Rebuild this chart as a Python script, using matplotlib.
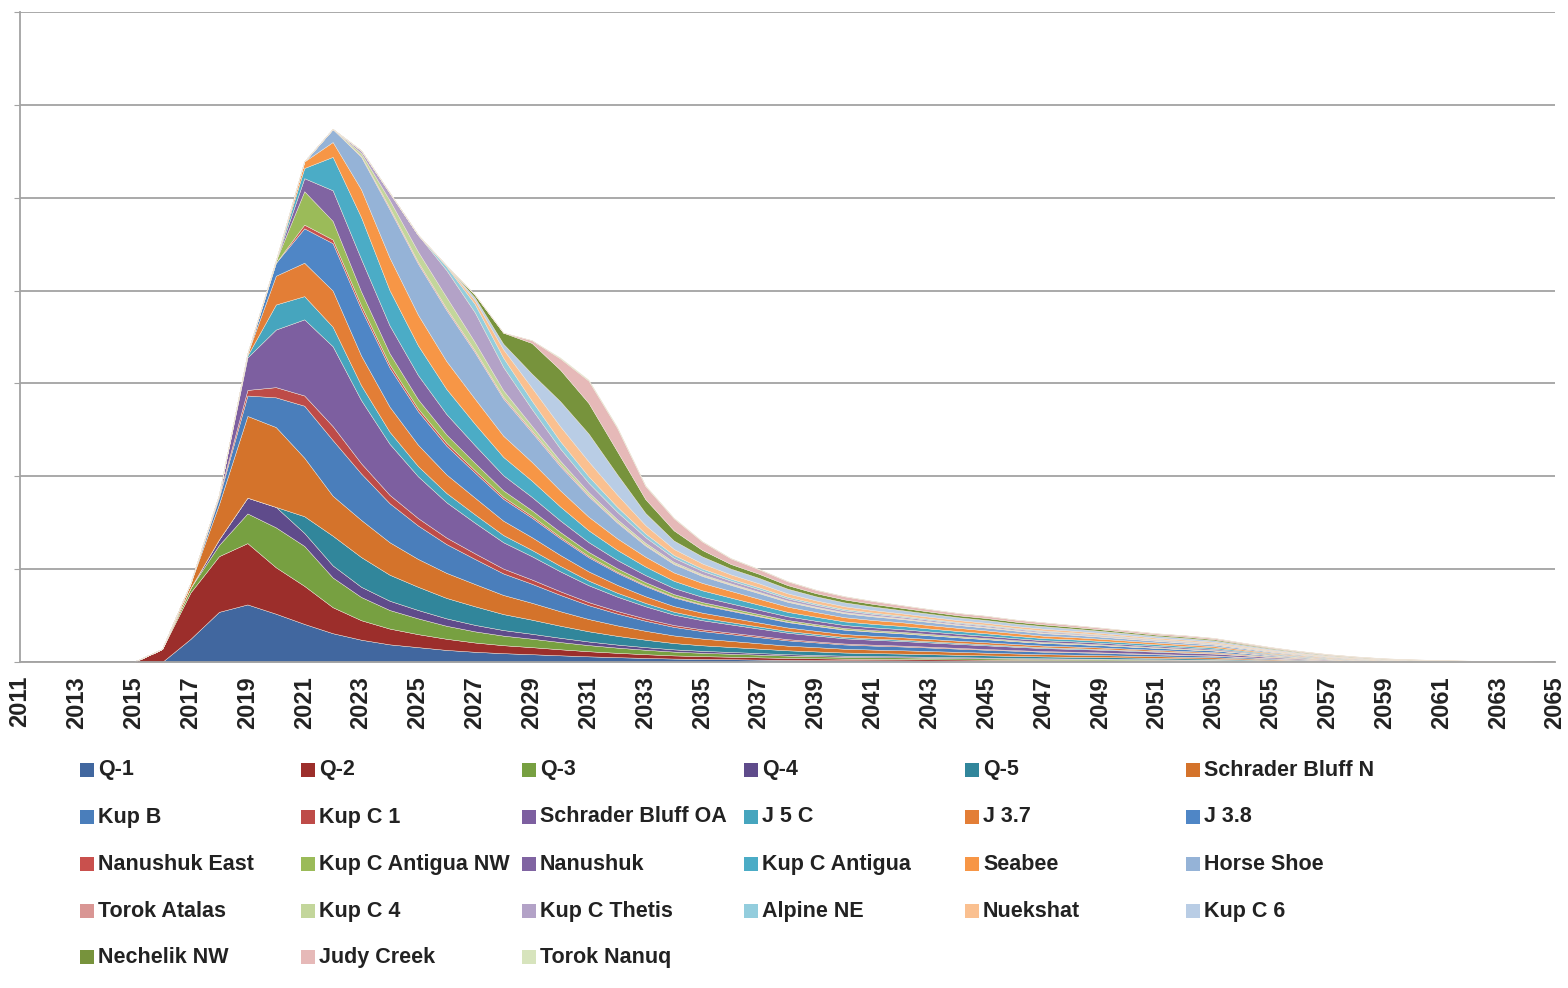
#!/usr/bin/env python3
# Stacked production profile by field, 2011-2065
import matplotlib
matplotlib.use("Agg")
import matplotlib.pyplot as plt
from matplotlib.patches import Rectangle

plt.rcParams['font.family'] = ['Liberation Sans', 'DejaVu Sans']

years = list(range(2011, 2066))
lead = [0, 0, 0, 0]          # 2011-2014: nothing on stream yet

names = ["Q-1", "Q-2", "Q-3", "Q-4", "Q-5", "Schrader Bluff N",
         "Kup B", "Kup C 1", "Schrader Bluff OA", "J 5 C", "J 3.7", "J 3.8",
         "Nanushuk East", "Kup C Antigua NW", "Nanushuk", "Kup C Antigua", "Seabee", "Horse Shoe",
         "Torok Atalas", "Kup C 4", "Kup C Thetis", "Alpine NE", "Nuekshat", "Kup C 6",
         "Nechelik NW", "Judy Creek", "Torok Nanuq"]

colors = ["#41679f", "#9c2e2b", "#77a041", "#5f4b8b", "#31869b", "#d4732b",
          "#4a7ebb", "#be4b48", "#7d5fa0", "#46a5be", "#e37e36", "#4f86c6",
          "#c9504d", "#9bbb59", "#8064a2", "#4bacc6", "#f79646", "#95b3d7",
          "#d99694", "#c3d69b", "#b3a2c7", "#93cddd", "#fac090", "#b9cde5",
          "#77933c", "#e6b9b8", "#d7e4bd"]

# yearly values 2015..2065 (one gridline = 100)
q1 = [0, 0, 25, 54, 62, 52, 41, 31, 24, 19, 16, 13, 11,
      9.5, 8.4, 7.2, 6.1, 5.2, 4.4, 3.7, 3.3, 3.0, 2.6, 2.3, 2.1, 1.9, 1.8, 1.7, 1.5, 1.4, 1.3, 1.2, 1.1,
      1.0, 1.0, 0.9, 0.8, 0.7, 0.7, 0.5, 0.4, 0.3, 0.2, 0.1, 0.1, 0.05, 0.04, 0.03, 0.02, 0.01, 0]
q2 = [0, 14, 50, 60, 66, 50, 41, 28, 21, 17, 14, 12, 10,
      8.6, 7.6, 6.5, 5.5, 4.7, 4.0, 3.4, 3.0, 2.7, 2.4, 2.1, 1.9, 1.7, 1.6, 1.5, 1.4, 1.3, 1.2, 1.1, 1.0,
      0.95, 0.88, 0.81, 0.74, 0.67, 0.6, 0.48, 0.35, 0.26, 0.18, 0.12, 0.08, 0.05, 0.035, 0.025, 0.014, 0.007, 0]
q3 = [0, 0, 5, 12, 32, 43, 43, 32, 25, 20, 17, 14, 12,
      10.3, 9.1, 7.8, 6.6, 5.6, 4.8, 4.1, 3.6, 3.2, 2.9, 2.5, 2.3, 2.0, 1.9, 1.8, 1.7, 1.6, 1.4, 1.3, 1.2,
      1.1, 1.06, 0.97, 0.89, 0.8, 0.72, 0.58, 0.42, 0.31, 0.22, 0.14, 0.1, 0.06, 0.04, 0.03, 0.02, 0.01, 0]
q4 = [0, 0, 0, 6, 17, 22, 14, 13, 11, 10, 9, 8, 7,
      6.0, 5.3, 4.6, 3.9, 3.3, 2.8, 2.4, 2.1, 1.9, 1.7, 1.5, 1.3, 1.2, 1.1, 1.05, 1.0, 0.9, 0.84, 0.77, 0.7,
      0.67, 0.62, 0.57, 0.52, 0.47, 0.42, 0.34, 0.25, 0.18, 0.13, 0.08, 0.06, 0.035, 0.025, 0.018, 0.01, 0.005, 0]
q5 = [0, 0, 0, 0, 0, 0, 18, 32, 32, 28, 25, 22, 20,
      17.2, 15.2, 13, 11, 9.4, 8, 6.8, 6, 5.4, 4.8, 4.2, 3.8, 3.4, 3.2, 3.0, 2.8, 2.6, 2.4, 2.2, 2.0,
      1.9, 1.76, 1.62, 1.48, 1.34, 1.2, 0.96, 0.7, 0.52, 0.36, 0.24, 0.16, 0.1, 0.07, 0.05, 0.03, 0.014, 0]
sbn = [0, 0, 5, 38, 88, 86, 63, 43, 40, 35, 30, 27, 24,
       20.6, 18.2, 15.6, 13.2, 11.3, 9.6, 8.2, 7.2, 6.5, 5.8, 5.0, 4.6, 4.1, 3.8, 3.6, 3.4, 3.1, 2.9, 2.6, 2.4,
       2.3, 2.1, 1.9, 1.8, 1.6, 1.44, 1.15, 0.84, 0.62, 0.43, 0.29, 0.19, 0.12, 0.08, 0.06, 0.03, 0.017, 0]
kup_b = [0, 0, 0, 7, 22, 32, 56, 60, 50, 42, 36, 31, 27,
         23.2, 20.5, 17.6, 14.9, 12.7, 10.8, 9.2, 8.1, 7.3, 6.5, 5.7, 5.1, 4.6, 4.3, 4.1, 3.8, 3.5, 3.2, 3.0, 2.7,
         2.6, 2.4, 2.2, 2.0, 1.8, 1.6, 1.3, 0.95, 0.7, 0.49, 0.32, 0.22, 0.14, 0.09, 0.07, 0.04, 0.02, 0]
kup_c1 = [0, 0, 0, 2, 6, 11, 11, 15, 11, 9, 8, 7, 6,
          5.2, 4.6, 3.9, 3.3, 2.8, 2.4, 2.0, 1.8, 1.6, 1.4, 1.3, 1.1, 1.0, 0.96, 0.9, 0.84, 0.78, 0.72, 0.66, 0.6,
          0.57, 0.53, 0.49, 0.44, 0.4, 0.36, 0.29, 0.21, 0.16, 0.11, 0.07, 0.05, 0.03, 0.02, 0.015, 0.008, 0.004, 0]
sboa = [0, 0, 0, 1, 35, 62, 82, 86, 68, 55, 45, 38, 33,
        28.4, 25.1, 21.5, 18.2, 15.5, 13.2, 11.2, 9.9, 8.9, 7.9, 6.9, 6.3, 5.6, 5.3, 5.0, 4.6, 4.3, 4.0, 3.6, 3.3,
        3.1, 2.9, 2.7, 2.4, 2.2, 2.0, 1.6, 1.2, 0.86, 0.59, 0.4, 0.26, 0.17, 0.12, 0.08, 0.05, 0.02, 0]
j5c = [0, 0, 0, 0, 2, 27, 25, 21, 16, 13, 11, 10, 9,
       7.7, 6.8, 5.9, 5.0, 4.2, 3.6, 3.1, 2.7, 2.4, 2.2, 1.9, 1.7, 1.5, 1.4, 1.35, 1.26, 1.17, 1.08, 0.99, 0.9,
       0.86, 0.79, 0.73, 0.67, 0.6, 0.54, 0.43, 0.32, 0.23, 0.16, 0.11, 0.07, 0.045, 0.03, 0.02, 0.013, 0.006, 0]
j37 = [0, 0, 0, 0, 2, 31, 36, 39, 32, 27, 23, 20, 18,
       15.5, 13.7, 11.7, 9.9, 8.5, 7.2, 6.1, 5.4, 4.9, 4.3, 3.8, 3.4, 3.1, 2.9, 2.7, 2.5, 2.3, 2.2, 2.0, 1.8,
       1.7, 1.6, 1.46, 1.33, 1.2, 1.08, 0.86, 0.63, 0.47, 0.32, 0.22, 0.14, 0.09, 0.06, 0.045, 0.025, 0.013, 0]
j38 = [0, 0, 0, 0, 0, 14, 37, 51, 50, 42, 36, 31, 27,
       23.5, 21.0, 18.0, 15.2, 12.9, 11.0, 9.4, 8.3, 7.4, 6.6, 5.8, 5.2, 4.7, 4.4, 4.2, 3.9, 3.6, 3.3, 3.0, 2.8,
       2.7, 2.5, 2.3, 2.1, 1.9, 1.7, 1.35, 1.0, 0.74, 0.52, 0.34, 0.23, 0.15, 0.1, 0.07, 0.04, 0.02, 0]
nan_east = [0, 0, 0, 0, 0, 0, 4, 4, 4, 3.5, 3, 3, 2.5,
            2.2, 1.9, 1.6, 1.4, 1.2, 1.0, 0.85, 0.75, 0.68, 0.6, 0.53, 0.48, 0.43, 0.4, 0.38, 0.35, 0.33, 0.3, 0.28, 0.25,
            0.24, 0.22, 0.2, 0.19, 0.17, 0.15, 0.12, 0.09, 0.07, 0.05, 0.03, 0.02, 0.013, 0.009, 0.006, 0.004, 0.002, 0]
kca_nw = [0, 0, 0, 0, 0, 2, 36, 20, 15, 12, 10, 9, 8,
          6.9, 6.1, 5.2, 4.4, 3.8, 3.2, 2.7, 2.4, 2.2, 1.9, 1.7, 1.5, 1.4, 1.3, 1.2, 1.1, 1.0, 0.96, 0.88, 0.8,
          0.76, 0.7, 0.65, 0.59, 0.54, 0.48, 0.38, 0.28, 0.21, 0.14, 0.1, 0.06, 0.04, 0.03, 0.02, 0.011, 0.006, 0]
nanushuk = [0, 0, 0, 0, 0, 0, 14, 33, 35, 30, 26, 22, 19,
            16.3, 14.4, 12.4, 10.5, 8.9, 7.6, 6.5, 5.7, 5.1, 4.6, 4.0, 3.6, 3.2, 3.0, 2.9, 2.7, 2.5, 2.3, 2.1, 1.9,
            1.8, 1.7, 1.5, 1.4, 1.3, 1.14, 0.91, 0.67, 0.49, 0.34, 0.23, 0.15, 0.1, 0.07, 0.05, 0.03, 0.013, 0]
kca = [0, 0, 0, 0, 0, 0, 11, 36, 45, 38, 32, 27, 23,
       19.8, 17.5, 15.0, 12.7, 10.8, 9.2, 7.8, 6.9, 6.2, 5.5, 4.8, 4.4, 3.9, 3.7, 3.5, 3.2, 3.0, 2.8, 2.5, 2.3,
       2.2, 2.0, 1.9, 1.7, 1.5, 1.4, 1.1, 0.8, 0.6, 0.41, 0.28, 0.18, 0.12, 0.08, 0.06, 0.03, 0.016, 0]
seabee = [0, 0, 0, 0, 0, 0, 7, 16, 30, 35, 33, 30, 27,
          22.8, 20.2, 17.4, 14.7, 12.5, 10.6, 9.0, 8.0, 7.2, 6.4, 5.6, 5.0, 4.5, 4.2, 4.0, 3.7, 3.4, 3.1, 2.9, 2.6,
          2.5, 2.3, 2.1, 1.9, 1.75, 1.55, 1.25, 0.92, 0.68, 0.47, 0.31, 0.21, 0.13, 0.09, 0.06, 0.04, 0.02, 0]
horse_shoe = [0, 0, 0, 0, 0, 0, 0, 14, 35, 52, 55, 55, 50, 40, 32, 26, 22, 17, 12, 9, 7.5,
              6.5, 6, 5.2, 4.6, 4.3, 3.9, 3.5, 3.3, 3.1, 3.0, 2.8, 2.75, 2.5, 2.3, 2.1, 1.9, 1.85, 1.7,
              1.4, 1.15, 0.87, 0.64, 0.49, 0.32, 0.26, 0.19, 0.13, 0.09, 0.06, 0]
torok_atalas = [0, 0, 0, 0, 0, 0, 0, 0, 1, 2, 2, 2, 2, 2, 2, 2, 1.5, 1.2, 1, 0.8, 0.7,
                0.6, 0.55, 0.5, 0.45, 0.42, 0.38, 0.34, 0.32, 0.3, 0.29, 0.27, 0.26, 0.24, 0.22, 0.2, 0.18, 0.18,
                0.16, 0.13, 0.11, 0.08, 0.06, 0.05, 0.03, 0.025, 0.02, 0.013, 0.01, 0.006, 0]
kup_c4 = [0, 0, 0, 0, 0, 0, 0, 0, 3, 8, 11, 12, 9, 7, 5, 4, 3, 2.4, 2, 1.5, 1.2,
          1.0, 0.9, 0.8, 0.7, 0.66, 0.6, 0.54, 0.5, 0.47, 0.46, 0.43, 0.42, 0.38, 0.35, 0.32, 0.29, 0.29,
          0.26, 0.21, 0.18, 0.13, 0.1, 0.07, 0.05, 0.04, 0.03, 0.02, 0.015, 0.01, 0]
thetis = [0, 0, 0, 0, 0, 0, 0, 0, 3, 8, 18, 29, 32, 25, 18, 13, 10, 8, 6, 4.5, 3.6,
          3.0, 2.8, 2.4, 2.1, 2.0, 1.8, 1.6, 1.5, 1.4, 1.38, 1.28, 1.26, 1.14, 1.05, 0.96, 0.87, 0.86,
          0.78, 0.64, 0.53, 0.4, 0.3, 0.23, 0.15, 0.12, 0.09, 0.06, 0.045, 0.027, 0]
alpine_ne = [0, 0, 0, 0, 0, 0, 0, 0, 0, 0, 0, 4, 9, 10, 9, 8, 7, 5.5, 4, 3, 2.5,
             2.1, 2.0, 1.7, 1.5, 1.4, 1.3, 1.15, 1.07, 1.0, 0.98, 0.92, 0.9, 0.8, 0.75, 0.68, 0.62, 0.61,
             0.55, 0.45, 0.38, 0.28, 0.21, 0.16, 0.1, 0.085, 0.06, 0.045, 0.03, 0.02, 0]
nuekshat = [0, 0, 0, 0, 0, 0, 0, 0, 0, 0, 0, 1, 4, 9, 14, 16, 16, 13, 9, 6.5, 5.5,
            4.6, 4.3, 3.7, 3.2, 3.0, 2.7, 2.45, 2.3, 2.1, 2.1, 1.95, 1.92, 1.72, 1.6, 1.45, 1.32, 1.3,
            1.18, 0.97, 0.8, 0.6, 0.45, 0.34, 0.22, 0.18, 0.13, 0.09, 0.065, 0.04, 0]
kup_c6 = [0, 0, 0, 0, 0, 0, 0, 0, 0, 0, 0, 0, 3, 6, 15, 27, 30, 22, 13, 9, 7.5,
          6.2, 5.8, 5.0, 4.4, 4.2, 3.8, 3.4, 3.2, 3.0, 2.95, 2.75, 2.7, 2.42, 2.25, 2.05, 1.86, 1.84,
          1.66, 1.37, 1.13, 0.85, 0.63, 0.48, 0.31, 0.26, 0.19, 0.13, 0.09, 0.055, 0]
nechelik = [0, 0, 0, 0, 0, 0, 0, 0, 0, 0, 0, 0, 3, 12, 33, 34, 33, 25, 15, 11, 7,
            5, 4.5, 3.9, 3.4, 3.2, 2.9, 2.6, 2.4, 2.2, 2.2, 2.05, 2.0, 1.8, 1.66, 1.5, 1.37, 1.35,
            1.22, 1.0, 0.83, 0.63, 0.46, 0.35, 0.23, 0.19, 0.14, 0.1, 0.07, 0.04, 0]
judy_creek = [0, 0, 0, 0, 0, 0, 0, 0, 0, 0, 0, 0, 0, 0, 3, 12, 24, 25, 14, 13, 9,
              6, 4.8, 4.0, 3.5, 3.3, 3.0, 2.7, 2.5, 2.3, 2.3, 2.15, 2.1, 1.9, 1.75, 1.6, 1.45, 1.43,
              1.3, 1.07, 0.88, 0.66, 0.49, 0.37, 0.24, 0.2, 0.14, 0.1, 0.07, 0.04, 0]
torok_nanuq = [0, 0, 0, 0, 0, 0, 0, 0, 0, 0, 0, 0, 0, 0, 0, 1, 1, 1, 0.8, 0.6, 0.5,
               0.4, 0.4, 0.35, 0.3, 0.28, 0.25, 0.22, 0.2, 0.19, 0.18, 0.17, 0.16, 0.15, 0.14, 0.13, 0.12, 0.12,
               0.11, 0.09, 0.07, 0.05, 0.04, 0.03, 0.02, 0.015, 0.01, 0.007, 0.005, 0.003, 0]

series = [q1, q2, q3, q4, q5, sbn, kup_b, kup_c1, sboa, j5c, j37, j38,
          nan_east, kca_nw, nanushuk, kca, seabee, horse_shoe,
          torok_atalas, kup_c4, thetis, alpine_ne, nuekshat, kup_c6,
          nechelik, judy_creek, torok_nanuq]
for n, s in zip(names, series):
    if len(lead) + len(s) != len(years):
        raise ValueError("%s has %d values" % (n, len(s)))
series = [lead + s for s in series]

W, H = 1568, 988
fig = plt.figure(figsize=(W / 100, H / 100), dpi=100)
ax = fig.add_axes([20 / W, 1 - 662 / H, 1535 / W, 650 / H])

ax.stackplot(years, *series, colors=colors, edgecolor="#efe6da", linewidth=0.3)

ax.set_xlim(2011, 2065)
ax.set_ylim(0, 700)
ax.set_yticks(range(0, 701, 100))
ax.set_yticklabels([])
ax.yaxis.grid(True, color="#a3a3a3", linewidth=1.3)
ax.set_axisbelow(True)
ax.set_xticks(years[::2])
ax.set_xticklabels([str(y) for y in years[::2]], rotation=90, fontsize=17,
                   fontweight="bold", color="#222222")
ax.tick_params(axis="x", length=0, pad=10)
ax.tick_params(axis="y", length=4, color="#a3a3a3")
for side in ("top", "right"):
    ax.spines[side].set_visible(False)
for side in ("left", "bottom"):
    ax.spines[side].set_color("#a3a3a3")
    ax.spines[side].set_linewidth(1.3)

# legend, 6 columns filled row by row (Excel style)
col_x = [80, 301, 522, 744, 965, 1186]
row_y = [770, 817, 864, 911, 957]
box = 14
for i, (n, c) in enumerate(zip(names, colors)):
    x, y = col_x[i % 6], row_y[i // 6]
    fig.add_artist(Rectangle((x / W, 1 - (y + box / 2) / H), box / W, box / H,
                             transform=fig.transFigure, facecolor=c, edgecolor="none"))
    fig.text((x + box + 4) / W, 1 - y / H, n, fontsize=15.5, fontweight="bold",
             color="#222222", ha="left", va="center")

fig.savefig("out.png", dpi=100)
